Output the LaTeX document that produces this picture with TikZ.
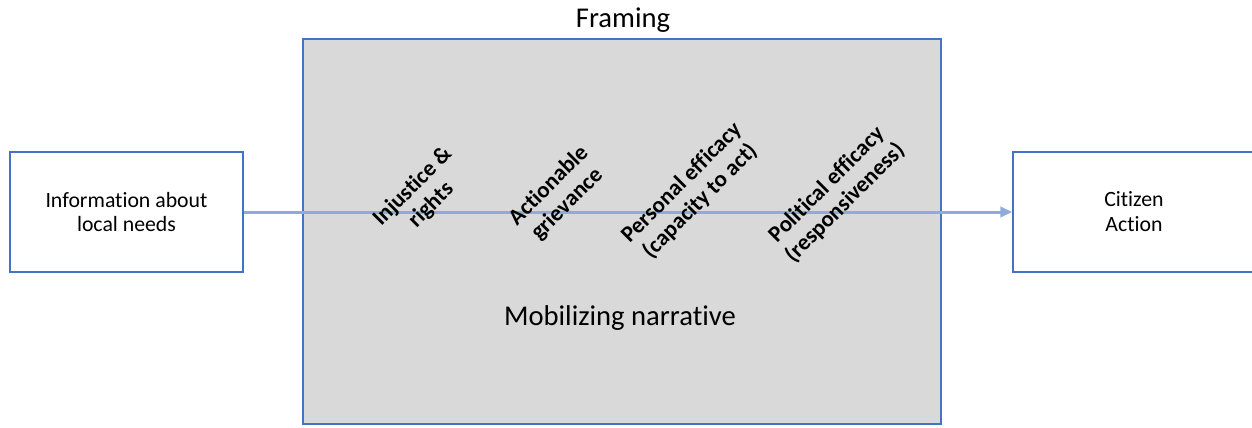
\documentclass[tikz,border=0pt]{standalone}
\usepackage{fontspec}
\setmainfont[Ligatures=NoCommon]{Carlito}
\usepackage{tikz}
\usetikzlibrary{arrows.meta, positioning}
\definecolor{BoxBlue}{RGB}{68, 114, 196}
\definecolor{FlowBlue}{RGB}{143, 170, 220}
\definecolor{PanelGray}{RGB}{217, 217, 217}

\begin{document}
\begin{tikzpicture}[x=0.02cm, y=-0.02cm,
	bx/.style={rectangle, draw=BoxBlue, line width=0.8pt, fill=white,
		align=center, inner sep=0pt, font=\fontsize{12.4}{14.2}\selectfont},
	fl/.style={-{Triangle[length=6.8pt, width=5.8pt]}, line width=1.7pt, FlowBlue},
	st/.style={rotate=45, align=center, inner sep=0pt,
		font=\fontsize{13}{14.8}\selectfont\bfseries},
	big/.style={anchor=base, font=\fontsize{16.3}{19}\selectfont}]
	\useasboundingbox (0,0) rectangle (1252,427);
	% framing panel
	\draw[draw=BoxBlue, line width=0.8pt, fill=PanelGray] (303,39) rectangle (941,424);
	\node[big] (framing) at (623,27) {Framing};
	\node[big] (narr) at (620,325) {Mobilizing narrative};
	% outer boxes
	\node[bx, minimum width=4.66cm, minimum height=2.4cm] (info) at (126.5,212)
		{Information about\\local needs};
	\node[bx, minimum width=4.84cm, minimum height=2.4cm] (action) at (1134,212)
		{Citizen\\Action};
	\draw[fl] (info) -- (action);
	% narrative steps
	\node[st] (inj) at (422,196) {Injustice \&\\rights};
	\node[st] (griev) at (558,195) {Actionable\\grievance};
	\node[st] (pers) at (691,192) {Personal efficacy\\(capacity to act)};
	\node[st] (pol) at (836,194) {Political efficacy\\(responsiveness)};
\end{tikzpicture}
\end{document}
